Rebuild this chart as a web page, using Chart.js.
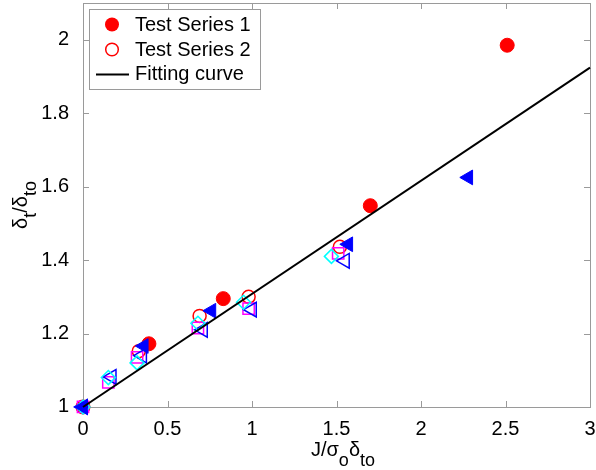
<!DOCTYPE html>
<html><head><meta charset="utf-8">
<script src="https://cdn.jsdelivr.net/npm/chart.js@4"></script>
<style>html,body{margin:0;padding:0;background:#fff}#wrap{width:596px;height:470px;position:relative}canvas{display:block}</style>
</head><body><div id="wrap"><canvas id="c" width="596" height="470"></canvas></div>
<script>
// ---- data ----
const fitX = [0, 3];
const fitY = [1, 1.924];
const s1X = [0, 0.39, 0.83, 1.70, 2.51];           // Test Series 1 (filled red circles)
const s1Y = [1, 1.172, 1.295, 1.548, 1.985];
const s2X = [0, 0.33, 0.69, 0.98, 1.52];           // Test Series 2 (open red circles)
const s2Y = [1, 1.152, 1.248, 1.300, 1.436];
const sqX = [0, 0.15, 0.32, 0.68, 0.98, 1.51];     // magenta open squares
const sqY = [1, 1.067, 1.135, 1.215, 1.268, 1.418];
const dmX = [0, 0.15, 0.32, 0.68, 0.95, 1.47];     // cyan open diamonds
const dmY = [1, 1.08, 1.12, 1.228, 1.285, 1.41];
const otX = [0, 0.17, 0.35, 0.71, 1.00, 1.55];     // blue open triangles
const otY = [1, 1.082, 1.14, 1.21, 1.265, 1.398];
const ftX = [0, 0.36, 0.76, 1.57, 2.28];           // blue filled triangles
const ftY = [1, 1.166, 1.262, 1.443, 1.625];
const xTicks = [0, 0.5, 1, 1.5, 2, 2.5, 3];
const xTickLabels = ['0', '0.5', '1', '1.5', '2', '2.5', '3'];
const yTicks = [1, 1.2, 1.4, 1.6, 1.8, 2];
const yTickLabels = ['1', '1.2', '1.4', '1.6', '1.8', '2'];
const legendLabels = ['Test Series 1', 'Test Series 2', 'Fitting curve'];

const FONT = "'Liberation Sans', Arial, sans-serif";
const zip = (xs, ys) => xs.map((x, i) => ({x: x, y: ys[i]}));
const RED = '#ff0000', BLUE = '#0000ff', MAG = '#ff00ff', CYAN = '#00ffff', AX = '#9a9a9a';

const axesPlugin = {
  id: 'axesBox',
  beforeDatasetsDraw(chart) {
    const {ctx, chartArea: a, scales} = chart;
    ctx.save();
    ctx.strokeStyle = AX; ctx.lineWidth = 1;
    ctx.strokeRect(Math.round(a.left) + 0.5, Math.round(a.top) + 0.5, Math.round(a.right - a.left), Math.round(a.bottom - a.top));
    const tl = 6;
    ctx.beginPath();
    xTicks.forEach(v => {
      const px = Math.round(scales.x.getPixelForValue(v)) + 0.5;
      ctx.moveTo(px, a.bottom); ctx.lineTo(px, a.bottom - tl);
      ctx.moveTo(px, a.top); ctx.lineTo(px, a.top + tl);
    });
    yTicks.forEach(v => {
      const py = Math.round(scales.y.getPixelForValue(v)) + 0.5;
      ctx.moveTo(a.left, py); ctx.lineTo(a.left + tl, py);
      ctx.moveTo(a.right, py); ctx.lineTo(a.right - tl, py);
    });
    ctx.stroke();
    ctx.restore();
  },
  afterDraw(chart) {
    const {ctx, chartArea: a} = chart;
    ctx.save();
    ctx.fillStyle = '#000';
    // x title: J/σ_o δ_to
    const main = '20px ' + FONT, sub = '18px ' + FONT;
    const xParts = [['J/σ', main, 0], ['o', sub, 1], ['δ', main, 0], ['to', sub, 1]];
    const measure = parts => parts.reduce((w, p) => { ctx.font = p[1]; return w + ctx.measureText(p[0]).width; }, 0);
    let w = measure(xParts);
    let x0 = 343 - w / 2;
    ctx.textBaseline = 'alphabetic'; ctx.textAlign = 'left';
    xParts.forEach(p => { ctx.font = p[1]; ctx.fillText(p[0], x0, p[2] ? 466 : 456); x0 += ctx.measureText(p[0]).width; });
    // y title: δ_t/δ_to (rotated)
    const yParts = [['δ', main, 0], ['t', sub, 1], ['/δ', main, 0], ['to', sub, 1]];
    w = measure(yParts);
    ctx.translate(0, (a.top + a.bottom) / 2);
    ctx.rotate(-Math.PI / 2);
    let t0 = -w / 2;
    yParts.forEach(p => { ctx.font = p[1]; ctx.fillText(p[0], t0, p[2] ? 36 : 27); t0 += ctx.measureText(p[0]).width; });
    ctx.restore();

    // legend box
    ctx.save();
    ctx.fillStyle = '#fff'; ctx.strokeStyle = AX; ctx.lineWidth = 1;
    ctx.fillRect(89.5, 9.5, 171, 80); ctx.strokeRect(89.5, 9.5, 171, 80);
    ctx.fillStyle = RED;
    ctx.beginPath(); ctx.arc(112, 24.5, 7, 0, Math.PI * 2); ctx.fill();
    ctx.strokeStyle = RED; ctx.lineWidth = 1.5;
    ctx.beginPath(); ctx.arc(112, 49.5, 6.3, 0, Math.PI * 2); ctx.stroke();
    ctx.strokeStyle = '#000'; ctx.lineWidth = 2;
    ctx.beginPath(); ctx.moveTo(96, 74.5); ctx.lineTo(129, 74.5); ctx.stroke();
    ctx.fillStyle = '#000'; ctx.font = '20px ' + FONT; ctx.textBaseline = 'alphabetic'; ctx.textAlign = 'left';
    ctx.fillText(legendLabels[0], 135, 31);
    ctx.fillText(legendLabels[1], 135, 56);
    ctx.fillText(legendLabels[2], 135, 80);
    ctx.restore();
  }
};

new Chart(document.getElementById('c'), {
  type: 'scatter',
  data: {
    datasets: [
      {label: legendLabels[2], data: zip(fitX, fitY), showLine: true, borderColor: '#000', borderWidth: 2, pointRadius: 0, fill: false, clip: false},
      {label: 'filled triangles', data: zip(ftX, ftY), pointStyle: 'triangle', rotation: -90, radius: 8.5, backgroundColor: BLUE, borderColor: BLUE, borderWidth: 1, clip: false},
      {label: 'diamonds', data: zip(dmX, dmY), pointStyle: 'rectRot', radius: 7, backgroundColor: 'rgba(0,0,0,0)', borderColor: CYAN, borderWidth: 1.5, clip: false},
      {label: 'open triangles', data: zip(otX, otY), pointStyle: 'triangle', rotation: -90, radius: 8.5, backgroundColor: 'rgba(0,0,0,0)', borderColor: BLUE, borderWidth: 1.5, clip: false},
      {label: 'squares', data: zip(sqX, sqY), pointStyle: 'rect', radius: 8, backgroundColor: 'rgba(0,0,0,0)', borderColor: MAG, borderWidth: 1.5, clip: false},
      {label: legendLabels[1], data: zip(s2X, s2Y), pointStyle: 'circle', radius: 6.5, backgroundColor: 'rgba(0,0,0,0)', borderColor: RED, borderWidth: 1.5, clip: false},
      {label: legendLabels[0], data: zip(s1X, s1Y), pointStyle: 'circle', radius: 7, backgroundColor: RED, borderColor: RED, borderWidth: 1, clip: false}
    ]
  },
  options: {
    responsive: false, animation: false, devicePixelRatio: 1,
    layout: {autoPadding: false, padding: {left: 0, right: 6, top: 3, bottom: 0}},
    plugins: {legend: {display: false}, tooltip: {enabled: false}},
    scales: {
      x: {
        type: 'linear', min: 0, max: 3,
        afterFit: s => { s.height = 63; s.paddingLeft = 0; s.paddingRight = 0; },
        afterBuildTicks: s => { s.ticks = xTicks.map(v => ({value: v})); },
        grid: {display: false}, border: {display: false},
        ticks: {font: {family: FONT, size: 20}, color: '#000', padding: 2, maxRotation: 0,
          callback: (v) => xTickLabels[xTicks.indexOf(v)]}
      },
      y: {
        type: 'linear', min: 0.9999, max: 2.1,
        afterFit: s => { s.width = 83; s.paddingTop = 0; s.paddingBottom = 0; },
        afterBuildTicks: s => { s.ticks = yTicks.map(v => ({value: v})); },
        grid: {display: false}, border: {display: false},
        ticks: {font: {family: FONT, size: 20}, color: '#000', padding: 6,
          callback: (v) => yTickLabels[yTicks.indexOf(v)]}
      }
    }
  },
  plugins: [axesPlugin]
});
</script>
</body></html>
